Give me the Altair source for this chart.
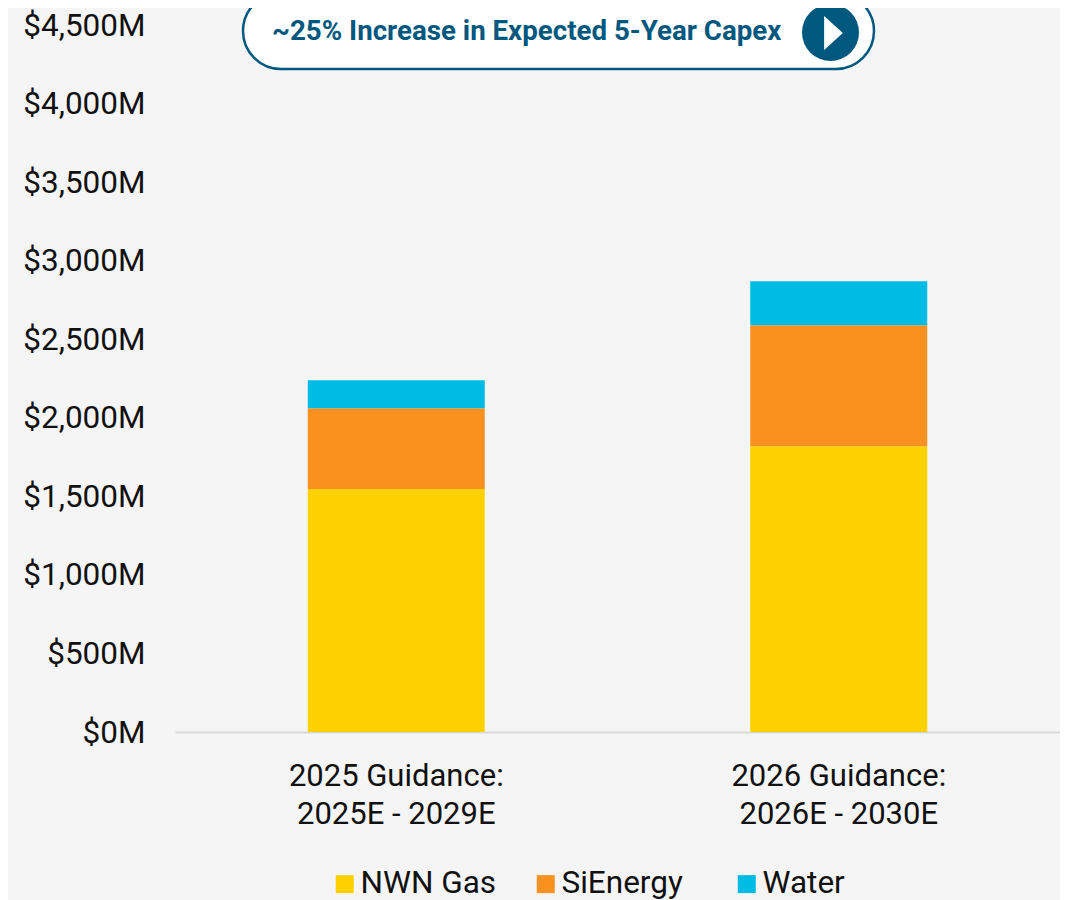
import altair as alt
import pandas as pd

guidance = ["2025 Guidance:|2025E - 2029E", "2026 Guidance:|2026E - 2030E"]
segments = ["NWN Gas", "SiEnergy", "Water"]
nwn_gas = [1546, 1819]
sienergy = [515, 770]
water = [178, 280]
y_ticks = [0, 500, 1000, 1500, 2000, 2500, 3000, 3500, 4000, 4500]
colors = ["#FFD100", "#F99020", "#00BCE4"]
BG = "#F5F5F5"
NAVY = "#00587F"
FONT = "Roboto"

rows = []
for i, g in enumerate(guidance):
    for k, (s, vals) in enumerate(zip(segments, [nwn_gas, sienergy, water])):
        rows.append({"guidance": g, "segment": s, "value": vals[i], "order": k})
df = pd.DataFrame(rows)

bars = alt.Chart(df).mark_bar(stroke=None).encode(
    x=alt.X("guidance:N", sort=guidance, title=None,
            scale=alt.Scale(paddingInner=0.6, paddingOuter=0.3),
            axis=alt.Axis(labelExpr="split(datum.label, '|')", labelAngle=0, labelFontSize=31,
                          labelFont=FONT, labelColor="#111111", labelPadding=44, labelLineHeight=38,
                          labelLimit=400, labelBaseline="middle", ticks=False, grid=False,
                          domainColor="#D9D9D9", domainWidth=2)),
    y=alt.Y("value:Q", stack="zero", title=None,
            scale=alt.Scale(domain=[0, 4500], nice=False),
            axis=alt.Axis(values=y_ticks, labelExpr="'$' + format(datum.value, ',') + 'M'", labelFontSize=31.5,
                          labelFont=FONT, labelColor="#111111", labelPadding=30, labelOffset=1, ticks=False,
                          grid=False, domain=False)),
    color=alt.Color("segment:N", sort=segments,
                    scale=alt.Scale(domain=segments, range=colors),
                    legend=alt.Legend(title=None, orient="none", direction="horizontal", columns=3,
                                      legendX=154, legendY=843, symbolType="square", symbolSize=324,
                                      symbolStrokeWidth=0, labelFontSize=31.5, labelFont=FONT,
                                      labelColor="#111111", columnPadding=33, labelOffset=0, symbolOpacity=1,
                                      gridAlign="all")),
    order=alt.Order("order:Q"),
)

one = pd.DataFrame({"a": [1]})
pill = alt.Chart(one).mark_rect(fill="white", stroke=NAVY, strokeWidth=2.5, cornerRadius=38).encode(
    x=alt.value(68), x2=alt.value(699), y=alt.value(-32), y2=alt.value(44))
pill_text = alt.Chart(one).mark_text(font=FONT, fontSize=27.7, fontWeight="bold", color=NAVY, align="left", baseline="middle").encode(
    x=alt.value(97), y=alt.value(7), text=alt.value("~25% Increase in Expected 5-Year Capex"))
circle = alt.Chart(one).mark_point(filled=True, opacity=1, color=NAVY, shape="circle", size=3250).encode(
    x=alt.value(655.5), y=alt.value(7.5))
arrow = alt.Chart(one).mark_point(filled=True, opacity=1, color="white", shape="M-0.55,-1L0.55,0L-0.55,1Z", size=1156).encode(
    x=alt.value(658.5), y=alt.value(8))

chart = (bars + pill + pill_text + circle + arrow).properties(
    width=885, height=707, background=BG,
    padding={"left": 167, "top": 17, "right": 0, "bottom": 168},
    autosize=alt.AutoSizeParams(type="none"),
).configure_view(stroke=None)

chart.save("out.html", embed_options={"renderer": "svg", "actions": False})
